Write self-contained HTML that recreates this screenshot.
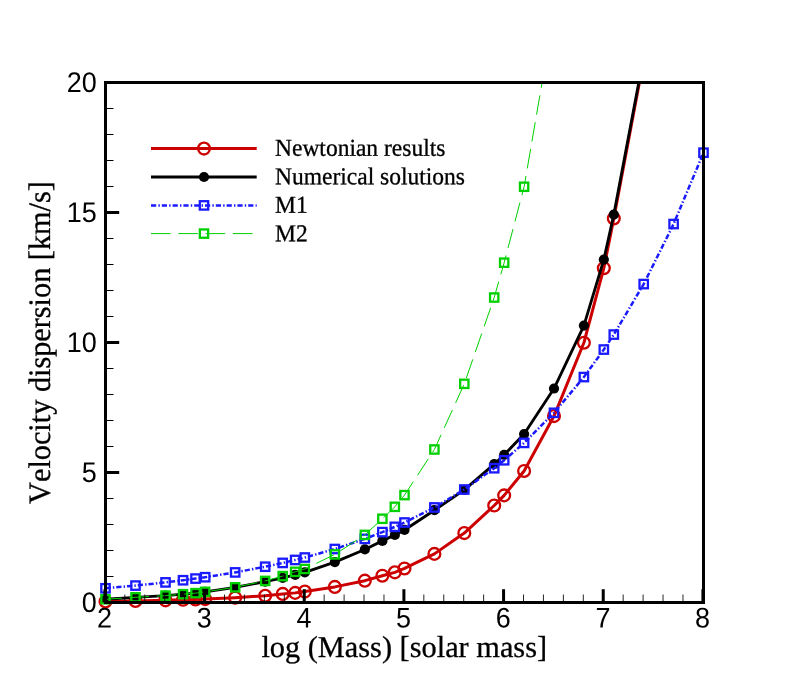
<!DOCTYPE html>
<html><head><meta charset="utf-8"><title>Velocity dispersion</title>
<style>
html,body{margin:0;padding:0;background:#fff;}
svg{display:block;will-change:transform;}
text{text-rendering:geometricPrecision;}
.h{font-family:"Liberation Sans",sans-serif;font-size:27px;fill:#000;}
.s{font-family:"Liberation Serif",serif;fill:#000;font-kerning:none;stroke:#000;stroke-width:0.3px;}
</style></head><body>
<svg width="802" height="679" viewBox="0 0 802 679">
<defs><clipPath id="c"><rect x="105.5" y="82.5" width="598.0" height="520.0"/></clipPath></defs>
<rect width="802" height="679" fill="#fff"/>
<g clip-path="url(#c)"><polyline points="105.50,601.43 135.50,600.99 165.50,600.37 183.04,599.82 195.50,599.48 205.17,599.12 235.17,597.69 265.17,595.74 282.71,593.92 295.17,592.88 304.83,591.58 334.83,586.90 364.83,580.66 382.37,575.72 394.83,572.34 404.50,568.44 434.40,553.88 464.30,533.08 494.20,505.52 504.17,495.38 524.10,470.94 554.00,416.08 583.90,342.76 603.83,268.14 613.80,218.48 643.70,59.62" fill="none" stroke="#cc0000" stroke-width="3" stroke-linejoin="round"/></g>
<circle cx="105.50" cy="601.43" r="5.9" fill="none" stroke="#cc0000" stroke-width="2.3"/>
<circle cx="135.50" cy="600.99" r="5.9" fill="none" stroke="#cc0000" stroke-width="2.3"/>
<circle cx="165.50" cy="600.37" r="5.9" fill="none" stroke="#cc0000" stroke-width="2.3"/>
<circle cx="183.04" cy="599.82" r="5.9" fill="none" stroke="#cc0000" stroke-width="2.3"/>
<circle cx="195.50" cy="599.48" r="5.9" fill="none" stroke="#cc0000" stroke-width="2.3"/>
<circle cx="205.17" cy="599.12" r="5.9" fill="none" stroke="#cc0000" stroke-width="2.3"/>
<circle cx="235.17" cy="597.69" r="5.9" fill="none" stroke="#cc0000" stroke-width="2.3"/>
<circle cx="265.17" cy="595.74" r="5.9" fill="none" stroke="#cc0000" stroke-width="2.3"/>
<circle cx="282.71" cy="593.92" r="5.9" fill="none" stroke="#cc0000" stroke-width="2.3"/>
<circle cx="295.17" cy="592.88" r="5.9" fill="none" stroke="#cc0000" stroke-width="2.3"/>
<circle cx="304.83" cy="591.58" r="5.9" fill="none" stroke="#cc0000" stroke-width="2.3"/>
<circle cx="334.83" cy="586.90" r="5.9" fill="none" stroke="#cc0000" stroke-width="2.3"/>
<circle cx="364.83" cy="580.66" r="5.9" fill="none" stroke="#cc0000" stroke-width="2.3"/>
<circle cx="382.37" cy="575.72" r="5.9" fill="none" stroke="#cc0000" stroke-width="2.3"/>
<circle cx="394.83" cy="572.34" r="5.9" fill="none" stroke="#cc0000" stroke-width="2.3"/>
<circle cx="404.50" cy="568.44" r="5.9" fill="none" stroke="#cc0000" stroke-width="2.3"/>
<circle cx="434.40" cy="553.88" r="5.9" fill="none" stroke="#cc0000" stroke-width="2.3"/>
<circle cx="464.30" cy="533.08" r="5.9" fill="none" stroke="#cc0000" stroke-width="2.3"/>
<circle cx="494.20" cy="505.52" r="5.9" fill="none" stroke="#cc0000" stroke-width="2.3"/>
<circle cx="504.17" cy="495.38" r="5.9" fill="none" stroke="#cc0000" stroke-width="2.3"/>
<circle cx="524.10" cy="470.94" r="5.9" fill="none" stroke="#cc0000" stroke-width="2.3"/>
<circle cx="554.00" cy="416.08" r="5.9" fill="none" stroke="#cc0000" stroke-width="2.3"/>
<circle cx="583.90" cy="342.76" r="5.9" fill="none" stroke="#cc0000" stroke-width="2.3"/>
<circle cx="603.83" cy="268.14" r="5.9" fill="none" stroke="#cc0000" stroke-width="2.3"/>
<circle cx="613.80" cy="218.48" r="5.9" fill="none" stroke="#cc0000" stroke-width="2.3"/>
<g clip-path="url(#c)"><polyline points="105.50,599.25 135.50,597.30 165.50,595.61 183.04,594.18 195.50,593.14 205.17,591.84 235.17,587.29 265.17,581.70 282.71,577.80 295.17,574.94 304.83,572.34 334.83,562.07 364.83,549.46 382.37,540.88 394.83,534.90 404.50,529.96 434.40,510.20 464.30,489.92 494.20,464.18 504.17,454.82 524.10,434.02 554.00,388.52 583.90,325.60 603.83,259.56 613.80,214.58 643.70,56.50" fill="none" stroke="#000" stroke-width="2.85" stroke-linejoin="round"/></g>
<circle cx="105.50" cy="599.25" r="5.1" fill="#000"/>
<circle cx="135.50" cy="597.30" r="5.1" fill="#000"/>
<circle cx="165.50" cy="595.61" r="5.1" fill="#000"/>
<circle cx="183.04" cy="594.18" r="5.1" fill="#000"/>
<circle cx="195.50" cy="593.14" r="5.1" fill="#000"/>
<circle cx="205.17" cy="591.84" r="5.1" fill="#000"/>
<circle cx="235.17" cy="587.29" r="5.1" fill="#000"/>
<circle cx="265.17" cy="581.70" r="5.1" fill="#000"/>
<circle cx="282.71" cy="577.80" r="5.1" fill="#000"/>
<circle cx="295.17" cy="574.94" r="5.1" fill="#000"/>
<circle cx="304.83" cy="572.34" r="5.1" fill="#000"/>
<circle cx="334.83" cy="562.07" r="5.1" fill="#000"/>
<circle cx="364.83" cy="549.46" r="5.1" fill="#000"/>
<circle cx="382.37" cy="540.88" r="5.1" fill="#000"/>
<circle cx="394.83" cy="534.90" r="5.1" fill="#000"/>
<circle cx="404.50" cy="529.96" r="5.1" fill="#000"/>
<circle cx="434.40" cy="510.20" r="5.1" fill="#000"/>
<circle cx="464.30" cy="489.92" r="5.1" fill="#000"/>
<circle cx="494.20" cy="464.18" r="5.1" fill="#000"/>
<circle cx="504.17" cy="454.82" r="5.1" fill="#000"/>
<circle cx="524.10" cy="434.02" r="5.1" fill="#000"/>
<circle cx="554.00" cy="388.52" r="5.1" fill="#000"/>
<circle cx="583.90" cy="325.60" r="5.1" fill="#000"/>
<circle cx="603.83" cy="259.56" r="5.1" fill="#000"/>
<circle cx="613.80" cy="214.58" r="5.1" fill="#000"/>
<g clip-path="url(#c)"><polyline points="105.50,588.28 135.50,585.59 165.50,582.39 183.04,580.24 195.50,578.58 205.17,577.21 235.17,572.42 265.17,566.73 282.71,562.92 295.17,559.96 304.83,557.52 334.83,549.01 364.83,538.89 382.37,532.11 394.83,526.86 404.50,522.51 434.40,507.44 464.30,489.52 494.20,468.22 504.17,460.26 524.10,442.90 554.00,412.82 583.90,377.07 603.83,349.56 613.80,334.57 643.70,284.07 673.60,224.04 703.50,152.70" fill="none" stroke="#1a1aff" stroke-width="2.5" stroke-dasharray="5.2 2.2 1.4 2"/></g>
<rect x="101.30" y="584.08" width="8.4" height="8.4" fill="none" stroke="#1a1aff" stroke-width="2.3"/>
<rect x="131.30" y="581.39" width="8.4" height="8.4" fill="none" stroke="#1a1aff" stroke-width="2.3"/>
<rect x="161.30" y="578.19" width="8.4" height="8.4" fill="none" stroke="#1a1aff" stroke-width="2.3"/>
<rect x="178.84" y="576.04" width="8.4" height="8.4" fill="none" stroke="#1a1aff" stroke-width="2.3"/>
<rect x="191.30" y="574.38" width="8.4" height="8.4" fill="none" stroke="#1a1aff" stroke-width="2.3"/>
<rect x="200.97" y="573.01" width="8.4" height="8.4" fill="none" stroke="#1a1aff" stroke-width="2.3"/>
<rect x="230.97" y="568.22" width="8.4" height="8.4" fill="none" stroke="#1a1aff" stroke-width="2.3"/>
<rect x="260.97" y="562.53" width="8.4" height="8.4" fill="none" stroke="#1a1aff" stroke-width="2.3"/>
<rect x="278.51" y="558.72" width="8.4" height="8.4" fill="none" stroke="#1a1aff" stroke-width="2.3"/>
<rect x="290.97" y="555.76" width="8.4" height="8.4" fill="none" stroke="#1a1aff" stroke-width="2.3"/>
<rect x="300.63" y="553.32" width="8.4" height="8.4" fill="none" stroke="#1a1aff" stroke-width="2.3"/>
<rect x="330.63" y="544.81" width="8.4" height="8.4" fill="none" stroke="#1a1aff" stroke-width="2.3"/>
<rect x="360.63" y="534.69" width="8.4" height="8.4" fill="none" stroke="#1a1aff" stroke-width="2.3"/>
<rect x="378.17" y="527.91" width="8.4" height="8.4" fill="none" stroke="#1a1aff" stroke-width="2.3"/>
<rect x="390.63" y="522.66" width="8.4" height="8.4" fill="none" stroke="#1a1aff" stroke-width="2.3"/>
<rect x="400.30" y="518.31" width="8.4" height="8.4" fill="none" stroke="#1a1aff" stroke-width="2.3"/>
<rect x="430.20" y="503.24" width="8.4" height="8.4" fill="none" stroke="#1a1aff" stroke-width="2.3"/>
<rect x="460.10" y="485.32" width="8.4" height="8.4" fill="none" stroke="#1a1aff" stroke-width="2.3"/>
<rect x="490.00" y="464.02" width="8.4" height="8.4" fill="none" stroke="#1a1aff" stroke-width="2.3"/>
<rect x="499.97" y="456.06" width="8.4" height="8.4" fill="none" stroke="#1a1aff" stroke-width="2.3"/>
<rect x="519.90" y="438.70" width="8.4" height="8.4" fill="none" stroke="#1a1aff" stroke-width="2.3"/>
<rect x="549.80" y="408.62" width="8.4" height="8.4" fill="none" stroke="#1a1aff" stroke-width="2.3"/>
<rect x="579.70" y="372.87" width="8.4" height="8.4" fill="none" stroke="#1a1aff" stroke-width="2.3"/>
<rect x="599.63" y="345.36" width="8.4" height="8.4" fill="none" stroke="#1a1aff" stroke-width="2.3"/>
<rect x="609.60" y="330.37" width="8.4" height="8.4" fill="none" stroke="#1a1aff" stroke-width="2.3"/>
<rect x="639.50" y="279.87" width="8.4" height="8.4" fill="none" stroke="#1a1aff" stroke-width="2.3"/>
<rect x="669.40" y="219.84" width="8.4" height="8.4" fill="none" stroke="#1a1aff" stroke-width="2.3"/>
<rect x="699.30" y="148.50" width="8.4" height="8.4" fill="none" stroke="#1a1aff" stroke-width="2.3"/>
<g clip-path="url(#c)"><polyline points="105.50,599.25 135.50,597.30 165.50,595.61 183.04,594.18 195.50,593.14 205.17,591.84 235.17,587.29 265.17,580.92 282.71,576.11 295.17,571.82 304.83,568.96 334.83,554.40 364.83,534.90 382.37,518.78 394.83,506.82 404.50,495.12 434.40,449.49 464.30,383.84 494.20,297.52 504.17,262.68 524.10,186.76 554.00,13.60" fill="none" stroke="#00d000" stroke-width="1" stroke-dasharray="19.6 7.7" stroke-dashoffset="3.3"/></g>
<rect x="101.35" y="595.10" width="8.3" height="8.3" fill="none" stroke="#00d000" stroke-width="2.3"/>
<rect x="131.35" y="593.15" width="8.3" height="8.3" fill="none" stroke="#00d000" stroke-width="2.3"/>
<rect x="161.35" y="591.46" width="8.3" height="8.3" fill="none" stroke="#00d000" stroke-width="2.3"/>
<rect x="178.89" y="590.03" width="8.3" height="8.3" fill="none" stroke="#00d000" stroke-width="2.3"/>
<rect x="191.35" y="588.99" width="8.3" height="8.3" fill="none" stroke="#00d000" stroke-width="2.3"/>
<rect x="201.02" y="587.69" width="8.3" height="8.3" fill="none" stroke="#00d000" stroke-width="2.3"/>
<rect x="231.02" y="583.14" width="8.3" height="8.3" fill="none" stroke="#00d000" stroke-width="2.3"/>
<rect x="261.02" y="576.77" width="8.3" height="8.3" fill="none" stroke="#00d000" stroke-width="2.3"/>
<rect x="278.56" y="571.96" width="8.3" height="8.3" fill="none" stroke="#00d000" stroke-width="2.3"/>
<rect x="291.02" y="567.67" width="8.3" height="8.3" fill="none" stroke="#00d000" stroke-width="2.3"/>
<rect x="300.68" y="564.81" width="8.3" height="8.3" fill="none" stroke="#00d000" stroke-width="2.3"/>
<rect x="330.68" y="550.25" width="8.3" height="8.3" fill="none" stroke="#00d000" stroke-width="2.3"/>
<rect x="360.68" y="530.75" width="8.3" height="8.3" fill="none" stroke="#00d000" stroke-width="2.3"/>
<rect x="378.22" y="514.63" width="8.3" height="8.3" fill="none" stroke="#00d000" stroke-width="2.3"/>
<rect x="390.68" y="502.67" width="8.3" height="8.3" fill="none" stroke="#00d000" stroke-width="2.3"/>
<rect x="400.35" y="490.97" width="8.3" height="8.3" fill="none" stroke="#00d000" stroke-width="2.3"/>
<rect x="430.25" y="445.34" width="8.3" height="8.3" fill="none" stroke="#00d000" stroke-width="2.3"/>
<rect x="460.15" y="379.69" width="8.3" height="8.3" fill="none" stroke="#00d000" stroke-width="2.3"/>
<rect x="490.05" y="293.37" width="8.3" height="8.3" fill="none" stroke="#00d000" stroke-width="2.3"/>
<rect x="500.02" y="258.53" width="8.3" height="8.3" fill="none" stroke="#00d000" stroke-width="2.3"/>
<rect x="519.95" y="182.61" width="8.3" height="8.3" fill="none" stroke="#00d000" stroke-width="2.3"/>
<line x1="151.0" y1="148.6" x2="256.7" y2="148.6" stroke="#cc0000" stroke-width="3"/>
<circle cx="204.0" cy="148.6" r="5.9" fill="none" stroke="#cc0000" stroke-width="2.3"/>
<line x1="151.0" y1="177.0" x2="256.7" y2="177.0" stroke="#000" stroke-width="2.85"/>
<circle cx="204.0" cy="177.0" r="5.1" fill="#000"/>
<line x1="151.0" y1="205.4" x2="256.7" y2="205.4" stroke="#1a1aff" stroke-width="2.5" stroke-dasharray="5.2 2.2 1.4 2"/>
<rect x="199.80" y="201.20" width="8.4" height="8.4" fill="none" stroke="#1a1aff" stroke-width="2.3"/>
<line x1="151.0" y1="233.6" x2="256.7" y2="233.6" stroke="#00d000" stroke-width="1" stroke-dasharray="19.6 7.7"/>
<rect x="199.85" y="229.45" width="8.3" height="8.3" fill="none" stroke="#00d000" stroke-width="2.3"/>
<text transform="translate(275.0,155.7) rotate(0.03) scale(1,1.03)" class="s" font-size="23.5">Newtonian results</text>
<text transform="translate(275.0,184.2) rotate(0.03) scale(1,1.03)" class="s" font-size="23.5">Numerical solutions</text>
<text transform="translate(275.0,212.7) rotate(0.03) scale(1,1.03)" class="s" font-size="23.5">M1</text>
<text transform="translate(275.0,241.2) rotate(0.03) scale(1,1.03)" class="s" font-size="23.5">M2</text>
<line x1="104.90" y1="602.5" x2="104.90" y2="589.2" stroke="#000" stroke-width="3"/>
<line x1="124.83" y1="602.5" x2="124.83" y2="594.5" stroke="#000" stroke-width="0.85"/>
<line x1="144.77" y1="602.5" x2="144.77" y2="594.5" stroke="#000" stroke-width="0.85"/>
<line x1="164.70" y1="602.5" x2="164.70" y2="594.5" stroke="#000" stroke-width="0.85"/>
<line x1="184.63" y1="602.5" x2="184.63" y2="594.5" stroke="#000" stroke-width="0.85"/>
<line x1="204.57" y1="602.5" x2="204.57" y2="589.2" stroke="#000" stroke-width="3"/>
<line x1="224.50" y1="602.5" x2="224.50" y2="594.5" stroke="#000" stroke-width="0.85"/>
<line x1="244.43" y1="602.5" x2="244.43" y2="594.5" stroke="#000" stroke-width="0.85"/>
<line x1="264.37" y1="602.5" x2="264.37" y2="594.5" stroke="#000" stroke-width="0.85"/>
<line x1="284.30" y1="602.5" x2="284.30" y2="594.5" stroke="#000" stroke-width="0.85"/>
<line x1="304.23" y1="602.5" x2="304.23" y2="589.2" stroke="#000" stroke-width="3"/>
<line x1="324.17" y1="602.5" x2="324.17" y2="594.5" stroke="#000" stroke-width="0.85"/>
<line x1="344.10" y1="602.5" x2="344.10" y2="594.5" stroke="#000" stroke-width="0.85"/>
<line x1="364.03" y1="602.5" x2="364.03" y2="594.5" stroke="#000" stroke-width="0.85"/>
<line x1="383.97" y1="602.5" x2="383.97" y2="594.5" stroke="#000" stroke-width="0.85"/>
<line x1="403.90" y1="602.5" x2="403.90" y2="589.2" stroke="#000" stroke-width="3"/>
<line x1="423.83" y1="602.5" x2="423.83" y2="594.5" stroke="#000" stroke-width="0.85"/>
<line x1="443.77" y1="602.5" x2="443.77" y2="594.5" stroke="#000" stroke-width="0.85"/>
<line x1="463.70" y1="602.5" x2="463.70" y2="594.5" stroke="#000" stroke-width="0.85"/>
<line x1="483.63" y1="602.5" x2="483.63" y2="594.5" stroke="#000" stroke-width="0.85"/>
<line x1="503.57" y1="602.5" x2="503.57" y2="589.2" stroke="#000" stroke-width="3"/>
<line x1="523.50" y1="602.5" x2="523.50" y2="594.5" stroke="#000" stroke-width="0.85"/>
<line x1="543.43" y1="602.5" x2="543.43" y2="594.5" stroke="#000" stroke-width="0.85"/>
<line x1="563.37" y1="602.5" x2="563.37" y2="594.5" stroke="#000" stroke-width="0.85"/>
<line x1="583.30" y1="602.5" x2="583.30" y2="594.5" stroke="#000" stroke-width="0.85"/>
<line x1="603.23" y1="602.5" x2="603.23" y2="589.2" stroke="#000" stroke-width="3"/>
<line x1="623.17" y1="602.5" x2="623.17" y2="594.5" stroke="#000" stroke-width="0.85"/>
<line x1="643.10" y1="602.5" x2="643.10" y2="594.5" stroke="#000" stroke-width="0.85"/>
<line x1="663.03" y1="602.5" x2="663.03" y2="594.5" stroke="#000" stroke-width="0.85"/>
<line x1="682.97" y1="602.5" x2="682.97" y2="594.5" stroke="#000" stroke-width="0.85"/>
<line x1="702.90" y1="602.5" x2="702.90" y2="589.2" stroke="#000" stroke-width="3"/>
<line x1="105.5" y1="602.50" x2="119.2" y2="602.50" stroke="#000" stroke-width="3"/>
<line x1="105.5" y1="576.50" x2="113.5" y2="576.50" stroke="#000" stroke-width="1"/>
<line x1="105.5" y1="550.50" x2="113.5" y2="550.50" stroke="#000" stroke-width="1"/>
<line x1="105.5" y1="524.50" x2="113.5" y2="524.50" stroke="#000" stroke-width="1"/>
<line x1="105.5" y1="498.50" x2="113.5" y2="498.50" stroke="#000" stroke-width="1"/>
<line x1="105.5" y1="472.50" x2="119.2" y2="472.50" stroke="#000" stroke-width="3"/>
<line x1="105.5" y1="446.50" x2="113.5" y2="446.50" stroke="#000" stroke-width="1"/>
<line x1="105.5" y1="420.50" x2="113.5" y2="420.50" stroke="#000" stroke-width="1"/>
<line x1="105.5" y1="394.50" x2="113.5" y2="394.50" stroke="#000" stroke-width="1"/>
<line x1="105.5" y1="368.50" x2="113.5" y2="368.50" stroke="#000" stroke-width="1"/>
<line x1="105.5" y1="342.50" x2="119.2" y2="342.50" stroke="#000" stroke-width="3"/>
<line x1="105.5" y1="316.50" x2="113.5" y2="316.50" stroke="#000" stroke-width="1"/>
<line x1="105.5" y1="290.50" x2="113.5" y2="290.50" stroke="#000" stroke-width="1"/>
<line x1="105.5" y1="264.50" x2="113.5" y2="264.50" stroke="#000" stroke-width="1"/>
<line x1="105.5" y1="238.50" x2="113.5" y2="238.50" stroke="#000" stroke-width="1"/>
<line x1="105.5" y1="212.50" x2="119.2" y2="212.50" stroke="#000" stroke-width="3"/>
<line x1="105.5" y1="186.50" x2="113.5" y2="186.50" stroke="#000" stroke-width="1"/>
<line x1="105.5" y1="160.50" x2="113.5" y2="160.50" stroke="#000" stroke-width="1"/>
<line x1="105.5" y1="134.50" x2="113.5" y2="134.50" stroke="#000" stroke-width="1"/>
<line x1="105.5" y1="108.50" x2="113.5" y2="108.50" stroke="#000" stroke-width="1"/>
<line x1="105.5" y1="82.50" x2="119.2" y2="82.50" stroke="#000" stroke-width="3"/>
<rect x="105.5" y="82.5" width="598.0" height="520.0" fill="none" stroke="#000" stroke-width="3"/>
<text transform="translate(104.60,627.4) rotate(0.03) scale(1,1.055)" class="h" text-anchor="middle">2</text>
<text transform="translate(204.27,627.4) rotate(0.03) scale(1,1.055)" class="h" text-anchor="middle">3</text>
<text transform="translate(303.93,627.4) rotate(0.03) scale(1,1.055)" class="h" text-anchor="middle">4</text>
<text transform="translate(403.60,627.4) rotate(0.03) scale(1,1.055)" class="h" text-anchor="middle">5</text>
<text transform="translate(503.27,627.4) rotate(0.03) scale(1,1.055)" class="h" text-anchor="middle">6</text>
<text transform="translate(602.93,627.4) rotate(0.03) scale(1,1.055)" class="h" text-anchor="middle">7</text>
<text transform="translate(702.60,627.4) rotate(0.03) scale(1,1.055)" class="h" text-anchor="middle">8</text>
<text transform="translate(96.9,612.10) rotate(0.03) scale(1,1.055)" class="h" text-anchor="end">0</text>
<text transform="translate(96.9,482.10) rotate(0.03) scale(1,1.055)" class="h" text-anchor="end">5</text>
<text transform="translate(96.9,352.10) rotate(0.03) scale(1,1.055)" class="h" text-anchor="end">10</text>
<text transform="translate(96.9,222.10) rotate(0.03) scale(1,1.055)" class="h" text-anchor="end">15</text>
<text transform="translate(96.9,92.10) rotate(0.03) scale(1,1.055)" class="h" text-anchor="end">20</text>
<text transform="translate(261.4,656.9) rotate(0.03)" class="s" font-size="30.35">log (Mass) [solar mass]</text>
<text transform="translate(50.2,503.9) rotate(-90) scale(1,1.03)" class="s" font-size="30.28">Velocity dispersion [km/s]</text>
</svg>
</body></html>
